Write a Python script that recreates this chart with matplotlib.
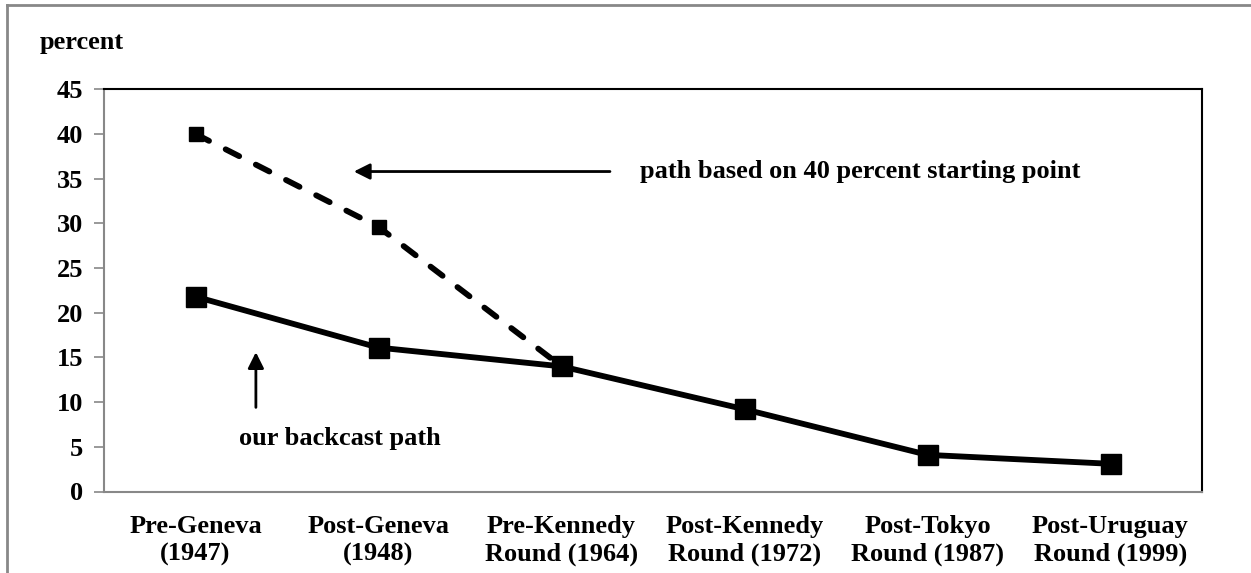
import matplotlib
matplotlib.use("Agg")
import matplotlib.pyplot as plt
from matplotlib.lines import Line2D
import numpy as np

# chart data
categories = ["Pre-Geneva\n(1947)", "Post-Geneva\n(1948)", "Pre-Kennedy\nRound (1964)",
              "Post-Kennedy\nRound (1972)", "Post-Tokyo\nRound (1987)", "Post-Uruguay\nRound (1999)"]
backcast = [21.8, 16.1, 14.0, 9.2, 4.1, 3.1]
alt_path = [40.0, 29.6, 14.0]
y_ticks = [0, 5, 10, 15, 20, 25, 30, 35, 40, 45]

plt.rcParams['font.family'] = ['Liberation Serif', 'DejaVu Serif']
plt.rcParams['font.weight'] = 'bold'
FS = 19

fig = plt.figure(figsize=(12.51, 5.73), dpi=100)
ax = fig.add_axes([104 / 1251, 1 - 491.5 / 573, 1098 / 1251, 402.2 / 573])

x = np.arange(len(categories))

# dashed path based on 40 percent
ax.plot(x[:len(alt_path)], alt_path, color='black', lw=4.2, ls=(0, (2.6, 3.2)),
        dash_capstyle='round', marker='s', ms=9.5, zorder=2)
# our backcast path
ax.plot(x, backcast, color='black', lw=4.2, marker='s', ms=15, zorder=3)

ax.set_xlim(-0.5, len(categories) - 0.5)
ax.set_ylim(0, 45)
ax.set_yticks(y_ticks)
ax.set_xticks(x)
ax.set_xticklabels(categories, fontsize=FS, fontweight='bold', linespacing=1.25)
ax.tick_params(axis='y', labelsize=FS, length=7, color='#888888', width=1.2, pad=8)
ax.tick_params(axis='x', length=0, pad=17)

for side in ['left', 'bottom']:
    ax.spines[side].set_color('#888888')
    ax.spines[side].set_linewidth(1.5)
for side in ['top', 'right']:
    ax.spines[side].set_color('black')
    ax.spines[side].set_linewidth(1.5)

# annotations
ax.annotate("", xy=(0.85, 35.8), xytext=(2.28, 35.8),
            arrowprops=dict(arrowstyle='-|>', color='black', lw=2, mutation_scale=24))
ax.text(2.43, 35.8, "path based on 40 percent starting point", fontsize=FS,
        fontweight='bold', va='center', ha='left')

ax.annotate("", xy=(0.33, 15.9), xytext=(0.33, 9.1),
            arrowprops=dict(arrowstyle='-|>', color='black', lw=2, mutation_scale=24))
ax.text(0.79, 5.9, "our backcast path", fontsize=FS, fontweight='bold',
        va='center', ha='center')

fig.text(40 / 1251, 1 - 42 / 573, "percent", fontsize=FS, fontweight='bold',
         va='center', ha='left')

# outer frame (left and top edges)
fig.add_artist(Line2D([7 / 1251, 7 / 1251], [0, 1 - 5 / 573], transform=fig.transFigure,
                      color='#888888', lw=2))
fig.add_artist(Line2D([7 / 1251, 1], [1 - 5 / 573, 1 - 5 / 573], transform=fig.transFigure,
                      color='#888888', lw=2))

fig.savefig("out.png", dpi=100)
